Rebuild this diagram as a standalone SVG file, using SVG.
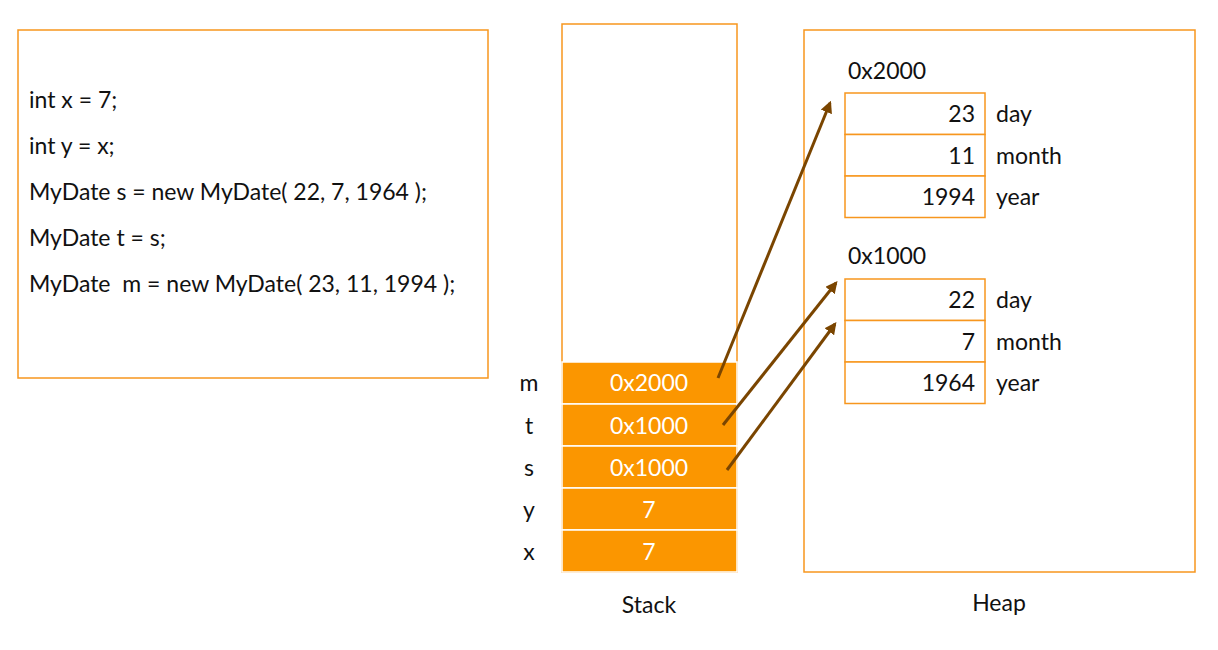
<svg xmlns="http://www.w3.org/2000/svg" width="1218" height="650" viewBox="0 0 1218 650">
<defs>
<style>
text{font-family:Lato,"Open Sans",sans-serif;font-size:23px;fill:#111}
.box{fill:#fff;stroke:#F7961E;stroke-width:1.5}
.cell{fill:#FB9600;stroke:#fff;stroke-width:1.5}
.wt{fill:#fff;text-anchor:middle}
.mid{text-anchor:middle}
.r{text-anchor:end}
.conn{stroke:#7A4500;stroke-width:3;fill:none;marker-end:url(#ah)}
</style>
<marker id="ah" viewBox="0 0 10 10" refX="8" refY="5" markerWidth="4" markerHeight="4" orient="auto" markerUnits="strokeWidth">
<path d="M0,0 L10,5 L0,10 z" fill="#7A4500"/>
</marker>
</defs>
<rect width="1218" height="650" fill="#fff"/>
<g id="code">
<rect class="box" x="18" y="30" width="470" height="348"/>
<text x="29" y="108">int x = 7;</text>
<text x="29" y="154">int y = x;</text>
<text x="29" y="200">MyDate s = new MyDate( 22, 7, 1964 );</text>
<text x="29" y="246">MyDate t = s;</text>
<text x="29" y="292" xml:space="preserve">MyDate  m = new MyDate( 23, 11, 1994 );</text>
</g>
<g id="stack">
<rect class="box" x="562" y="24" width="175" height="548"/>
<rect class="cell" x="562" y="362" width="175" height="42"/>
<rect class="cell" x="562" y="404" width="175" height="42"/>
<rect class="cell" x="562" y="446" width="175" height="42"/>
<rect class="cell" x="562" y="488" width="175" height="42"/>
<rect class="cell" x="562" y="530" width="175" height="42"/>
<text class="wt" x="649" y="391">0x2000</text>
<text class="wt" x="649" y="434">0x1000</text>
<text class="wt" x="649" y="476">0x1000</text>
<text class="wt" x="649" y="518">7</text>
<text class="wt" x="649" y="560">7</text>
<text class="mid" x="529" y="391">m</text>
<text class="mid" x="529" y="434">t</text>
<text class="mid" x="529" y="476">s</text>
<text class="mid" x="529" y="518">y</text>
<text class="mid" x="529" y="560">x</text>
<text class="mid" x="649" y="613">Stack</text>
</g>
<g id="heap">
<rect class="box" x="804" y="30" width="391" height="542"/>
<text class="mid" x="999" y="611">Heap</text>
</g>
<g id="obj2000">
<text x="848" y="79">0x2000</text>
<rect class="box" x="845" y="93" width="140" height="41.5"/>
<rect class="box" x="845" y="134.5" width="140" height="41.5"/>
<rect class="box" x="845" y="176" width="140" height="41.5"/>
<text class="r" x="975" y="122">23</text>
<text class="r" x="975" y="164">11</text>
<text class="r" x="975" y="205">1994</text>
<text x="996" y="122">day</text>
<text x="996" y="164">month</text>
<text x="996" y="205">year</text>
</g>
<g id="obj1000">
<text x="848" y="264">0x1000</text>
<rect class="box" x="845" y="279" width="140" height="41.5"/>
<rect class="box" x="845" y="320.5" width="140" height="41.5"/>
<rect class="box" x="845" y="362" width="140" height="41.5"/>
<text class="r" x="975" y="308">22</text>
<text class="r" x="975" y="350">7</text>
<text class="r" x="975" y="391">1964</text>
<text x="996" y="308">day</text>
<text x="996" y="350">month</text>
<text x="996" y="391">year</text>
</g>
<g id="connectors">
<line class="conn" x1="718" y1="378" x2="830" y2="103"/>
<line class="conn" x1="723" y1="425" x2="836" y2="283"/>
<line class="conn" x1="727" y1="470" x2="835" y2="324"/>
</g>
</svg>
